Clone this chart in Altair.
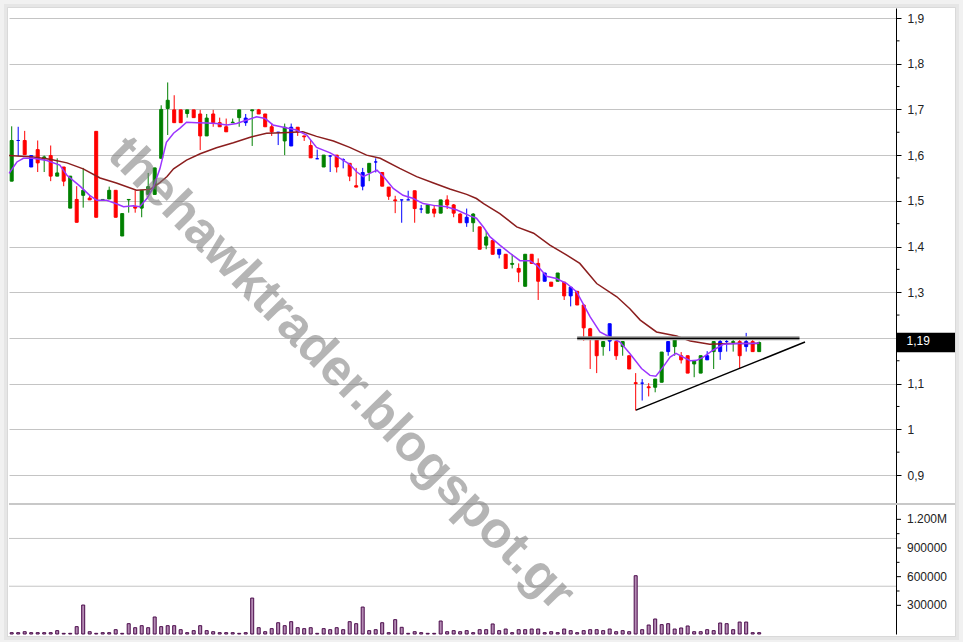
import altair as alt
import pandas as pd

# ---------------- data ----------------
opens = [1.543, 1.632, 1.632, 1.599, 1.612, 1.592, 1.599, 1.554, 1.574, 1.484,
         1.503, 1.512, 1.506, 1.652, 1.502, 1.504, 1.523, 1.423, 1.502, 1.487,
         1.484, 1.514, 1.514, 1.593, 1.702, 1.699, 1.699, 1.691, 1.699, 1.690,
         1.642, 1.690, 1.671, 1.662, 1.671, 1.682, 1.681, 1.697, 1.699, 1.690,
         1.662, 1.650, 1.631, 1.661, 1.661, 1.642, 1.621, 1.592, 1.574, 1.598,
         1.600, 1.590, 1.582, 1.533, 1.562, 1.562, 1.585, 1.562, 1.530, 1.502,
         1.502, 1.502, 1.522, 1.482, 1.473, 1.482, 1.473, 1.502, 1.491, 1.471,
         1.464, 1.452, 1.443, 1.403, 1.413, 1.394, 1.383, 1.361, 1.352, 1.313,
         1.383, 1.363, 1.342, 1.322, 1.324, 1.322, 1.311, 1.302, 1.272, 1.220,
         1.200, 1.181, 1.231, 1.192, 1.181, 1.161, 1.102, 1.101, 1.093, 1.092,
         1.103, 1.192, 1.181, 1.161, 1.161, 1.143, 1.123, 1.161, 1.170, 1.192,
         1.192, 1.190, 1.192, 1.192, 1.192, 1.170]
highs = [1.663, 1.662, 1.653, 1.599, 1.632, 1.599, 1.621, 1.593, 1.574, 1.554,
         1.532, 1.572, 1.512, 1.652, 1.503, 1.531, 1.523, 1.472, 1.503, 1.523,
         1.523, 1.561, 1.572, 1.709, 1.759, 1.731, 1.699, 1.699, 1.699, 1.699,
         1.690, 1.699, 1.682, 1.680, 1.680, 1.699, 1.690, 1.699, 1.701, 1.690,
         1.669, 1.650, 1.669, 1.669, 1.661, 1.642, 1.633, 1.612, 1.600, 1.600,
         1.600, 1.593, 1.582, 1.572, 1.572, 1.582, 1.593, 1.562, 1.530, 1.511,
         1.502, 1.522, 1.522, 1.491, 1.491, 1.491, 1.502, 1.512, 1.493, 1.473,
         1.483, 1.473, 1.443, 1.434, 1.413, 1.394, 1.383, 1.383, 1.363, 1.383,
         1.383, 1.374, 1.342, 1.322, 1.342, 1.322, 1.311, 1.302, 1.272, 1.222,
         1.200, 1.192, 1.231, 1.192, 1.192, 1.161, 1.123, 1.110, 1.101, 1.110,
         1.169, 1.192, 1.198, 1.169, 1.161, 1.150, 1.161, 1.171, 1.192, 1.198,
         1.198, 1.198, 1.200, 1.211, 1.198, 1.192]
lows = [1.543, 1.598, 1.601, 1.574, 1.563, 1.563, 1.543, 1.554, 1.532, 1.484,
        1.453, 1.485, 1.502, 1.464, 1.502, 1.504, 1.464, 1.423, 1.474, 1.474,
        1.464, 1.514, 1.514, 1.593, 1.644, 1.671, 1.671, 1.682, 1.682, 1.611,
        1.642, 1.662, 1.662, 1.651, 1.671, 1.662, 1.664, 1.620, 1.690, 1.662,
        1.642, 1.622, 1.600, 1.620, 1.642, 1.631, 1.594, 1.592, 1.574, 1.563,
        1.562, 1.571, 1.543, 1.530, 1.523, 1.543, 1.562, 1.532, 1.502, 1.473,
        1.452, 1.502, 1.452, 1.473, 1.473, 1.464, 1.473, 1.482, 1.464, 1.452,
        1.443, 1.432, 1.394, 1.394, 1.383, 1.374, 1.352, 1.352, 1.322, 1.313,
        1.363, 1.283, 1.324, 1.313, 1.324, 1.283, 1.269, 1.272, 1.194, 1.132,
        1.123, 1.161, 1.171, 1.152, 1.161, 1.132, 1.041, 1.063, 1.072, 1.081,
        1.103, 1.161, 1.161, 1.144, 1.123, 1.114, 1.123, 1.152, 1.132, 1.152,
        1.170, 1.170, 1.132, 1.170, 1.170, 1.170]
closes = [1.632, 1.632, 1.601, 1.574, 1.583, 1.596, 1.554, 1.561, 1.543, 1.554,
          1.453, 1.523, 1.502, 1.464, 1.503, 1.523, 1.464, 1.472, 1.503, 1.484,
          1.523, 1.531, 1.572, 1.700, 1.720, 1.671, 1.671, 1.699, 1.682, 1.642,
          1.681, 1.671, 1.662, 1.651, 1.672, 1.699, 1.671, 1.699, 1.690, 1.662,
          1.651, 1.650, 1.661, 1.620, 1.651, 1.640, 1.594, 1.592, 1.600, 1.598,
          1.574, 1.590, 1.554, 1.530, 1.532, 1.582, 1.585, 1.532, 1.510, 1.500,
          1.502, 1.502, 1.483, 1.482, 1.491, 1.473, 1.502, 1.491, 1.473, 1.452,
          1.452, 1.471, 1.394, 1.421, 1.383, 1.383, 1.352, 1.363, 1.344, 1.383,
          1.363, 1.324, 1.324, 1.313, 1.342, 1.292, 1.292, 1.272, 1.222, 1.201,
          1.161, 1.192, 1.193, 1.161, 1.192, 1.132, 1.100, 1.101, 1.091, 1.110,
          1.169, 1.170, 1.198, 1.152, 1.123, 1.150, 1.161, 1.152, 1.192, 1.170,
          1.192, 1.192, 1.161, 1.181, 1.170, 1.190]
dirs = list("gbrbrgrgrgrgrrggrggrgggggrrgrrgrrrggbgrrrbgbrrrbgbrbrrbgbrrrbbrbgrgrrrbgrgrbrgrgrrbrgrbrrrrgbrgrrbrggbgrrggbgbbgrbrg")
volumes = [14000, 14000, 24000, 14000, 14000, 14000, 14000, 35000, 7000, 7000,
           77000, 303000, 24000, 7000, 14000, 14000, 45000, 7000, 108000, 66000,
           87000, 66000, 178000, 77000, 87000, 87000, 45000, 14000, 35000, 87000,
           35000, 24000, 14000, 14000, 14000, 7000, 14000, 376000, 66000, 24000,
           56000, 118000, 87000, 129000, 66000, 56000, 66000, 7000, 56000, 45000,
           66000, 45000, 129000, 108000, 282000, 35000, 45000, 118000, 14000, 150000,
           70000, 7000, 24000, 14000, 7000, 7000, 136000, 24000, 35000, 24000,
           35000, 14000, 45000, 45000, 105000, 35000, 52000, 14000, 45000, 45000,
           52000, 52000, 14000, 24000, 14000, 52000, 35000, 14000, 35000, 45000,
           45000, 35000, 52000, 24000, 35000, 24000, 610000, 45000, 94000, 157000,
           98000, 108000, 52000, 63000, 84000, 24000, 24000, 45000, 35000, 115000,
           108000, 45000, 125000, 125000, 14000, 14000]

# short moving average (purple), positions in candle units
ma_short_pos = [-0.4, 0.8, 1.8, 3.3, 5.4, 7.4, 8.5, 10.5, 12.0, 13.1, 14.6, 16.2,
                17.2, 18.7, 19.7, 20.8, 21.8, 22.8, 23.8, 24.9, 25.9, 26.9, 28.5,
                30.0, 31.5, 33.1, 34.6, 36.2, 37.7, 39.0, 40.2, 41.8, 43.8, 45.4,
                46.9, 49.0, 51.0, 52.0, 53.1, 54.1, 55.1, 56.2, 57.2, 58.7, 60.2,
                61.8, 63.3, 64.9, 66.9, 68.5, 70.5, 71.5, 72.6, 73.6, 75.1, 76.7,
                78.2, 79.7, 80.8, 82.3, 83.8, 85.4, 86.9, 87.9, 89.0, 90.5, 92.0,
                93.6, 95.1, 96.9, 98.2, 99.1, 100.2, 101.3, 102.2, 103.3, 104.4,
                105.4, 106.4, 107.9, 109.5, 111.5, 113.6, 115.0]
ma_short_val = [1.560, 1.585, 1.593, 1.593, 1.588, 1.578, 1.556, 1.532, 1.512, 1.501,
                1.501, 1.493, 1.487, 1.489, 1.487, 1.505, 1.530, 1.570, 1.628, 1.648,
                1.659, 1.672, 1.671, 1.670, 1.669, 1.666, 1.669, 1.677, 1.684, 1.680,
                1.666, 1.661, 1.655, 1.644, 1.617, 1.605, 1.589, 1.580, 1.563, 1.553,
                1.560, 1.567, 1.553, 1.527, 1.512, 1.505, 1.494, 1.490, 1.487, 1.480,
                1.467, 1.462, 1.442, 1.421, 1.403, 1.385, 1.369, 1.369, 1.359, 1.335,
                1.330, 1.319, 1.301, 1.275, 1.246, 1.213, 1.202, 1.191, 1.166, 1.133,
                1.118, 1.116, 1.136, 1.158, 1.166, 1.158, 1.150, 1.151, 1.158, 1.173,
                1.186, 1.188, 1.188, 1.189]
# long moving average (dark red)
ma_long_pos = [-0.4, 3.3, 5.9, 8.5, 11.0, 13.6, 16.1, 19.2, 21.3, 22.8, 23.9, 24.9,
               26.9, 29.0, 31.5, 34.1, 36.7, 39.2, 41.7, 44.8, 46.9, 49.5, 52.0,
               54.6, 56.7, 59.7, 62.3, 64.9, 67.4, 70.0, 71.5, 72.6, 75.1, 77.7,
               80.3, 82.8, 85.4, 87.4, 90.0, 93.1, 95.1, 96.7, 99.2, 102.3, 104.4,
               107.4, 110.5, 113.6, 115.0]
ma_long_val = [1.599, 1.596, 1.591, 1.583, 1.570, 1.550, 1.539, 1.523, 1.525, 1.540,
               1.553, 1.570, 1.589, 1.603, 1.616, 1.627, 1.639, 1.648, 1.649, 1.651,
               1.641, 1.631, 1.617, 1.600, 1.593, 1.571, 1.553, 1.539, 1.526, 1.514,
               1.505, 1.494, 1.472, 1.443, 1.429, 1.403, 1.381, 1.363, 1.319, 1.290,
               1.264, 1.239, 1.213, 1.204, 1.193, 1.186, 1.188, 1.188, 1.188]

resist_pos = [87.0, 121.2]
resist_val = [1.199, 1.199]
support_pos = [96.05, 122.05]
support_val = [1.042, 1.191]

price_ticks = [0.9, 1.0, 1.1, 1.2, 1.3, 1.4, 1.5, 1.6, 1.7, 1.8, 1.9]
price_minor = [0.95, 1.05, 1.15, 1.25, 1.35, 1.45, 1.55, 1.65, 1.75, 1.85]
vol_ticks = [1200000, 900000, 600000, 300000]
vol_labels = ["1.200M", "900000", "600000", "300000"]
vol_minor = [1050000, 750000, 450000]
vol_grid = [1000000, 500000]
watermark = "thehawktrader.blogspot.gr"

# ---------------- frames ----------------
n = len(opens)
candles = pd.DataFrame({"pos": list(range(n)), "open": opens, "high": highs,
                        "low": lows, "close": closes, "dir": dirs, "volume": volumes})
ma_s = pd.DataFrame({"pos": ma_short_pos, "val": ma_short_val})
ma_l = pd.DataFrame({"pos": ma_long_pos, "val": ma_long_val})
res = pd.DataFrame({"pos": resist_pos, "val": resist_val})
sup = pd.DataFrame({"pos": support_pos, "val": support_val})
pmin = pd.DataFrame({"val": price_minor})
vt = pd.DataFrame({"v": vol_ticks, "lab": vol_labels})
vmin = pd.DataFrame({"v": vol_minor})
vg = pd.DataFrame({"v": vol_grid})
last = pd.DataFrame({"val": [closes[-1]], "lab": [f"{closes[-1]:.2f}".replace(".", ",")]})
one = pd.DataFrame({"k": [0]})

W, H = 887, 626
XDOM = [-0.415, 136.05]
PDOM = [0.5521, 1.9219]
VDOM = [0, 6.551e6]
FONT = "Liberation Sans"

xs = alt.Scale(domain=XDOM, nice=False, zero=False, padding=0)
ps = alt.Scale(domain=PDOM, nice=False, zero=False, padding=0)
vs = alt.Scale(domain=VDOM, nice=False, zero=False, padding=0)

# the label under the current-price box is hidden, as in the reference
paxis = alt.Axis(orient="right", values=price_ticks,
                 labelExpr="abs(datum.value - 1.2) < 0.001 ? '' : replace(format(datum.value, '.1~f'), '.', ',')",
                 grid=True, gridColor="#c4c4c4", gridWidth=1,
                 domainColor="#000000", domainWidth=1, tickColor="#000000",
                 tickSize=5, tickWidth=1, labelPadding=6, labelFont=FONT,
                 labelFontSize=12, labelColor="#222222", title=None)

dir_scale = alt.Scale(domain=["g", "r", "b"], range=["#008000", "#ff0000", "#0000ff"])

# shadow frame around the panel
def frame(x1, x2, y1, y2, color, w):
    return alt.Chart(one).mark_rect(fillOpacity=0, stroke=color, strokeWidth=w).encode(
        x=alt.value(x1), x2=alt.value(x2), y=alt.value(y1), y2=alt.value(y2))

shadow = [frame(-5, 950, -4, 632, "#f1f1f1", 8),
          frame(-3, 948, -2, 630, "#e6e6e6", 4),
          frame(-1.5, 946.5, -0.5, 628.5, "#d9d9d9", 1)]

# ---------------- price layers ----------------
wicks = alt.Chart(candles).mark_rule(strokeWidth=1).encode(
    x=alt.X("pos:Q", scale=xs, axis=None),
    y=alt.Y("low:Q", scale=ps, axis=paxis),
    y2="high:Q",
    color=alt.Color("dir:N", scale=dir_scale, legend=None))

bodies = alt.Chart(candles).mark_bar(size=3, strokeWidth=1).encode(
    x=alt.X("pos:Q", scale=xs, axis=None),
    y=alt.Y("open:Q", scale=ps, axis=paxis),
    y2="close:Q",
    fill=alt.Fill("dir:N", scale=dir_scale, legend=None),
    stroke=alt.Stroke("dir:N", scale=dir_scale, legend=None))

line_long = alt.Chart(ma_l).mark_line(color="#8b1e1e", strokeWidth=1.5).encode(
    x=alt.X("pos:Q", scale=xs, axis=None), y=alt.Y("val:Q", scale=ps, axis=paxis))
line_short = alt.Chart(ma_s).mark_line(color="#9b34ff", strokeWidth=1.5).encode(
    x=alt.X("pos:Q", scale=xs, axis=None), y=alt.Y("val:Q", scale=ps, axis=paxis))

res_band = alt.Chart(res).mark_line(color="#9a9a9a", strokeWidth=4, strokeCap="butt").encode(
    x=alt.X("pos:Q", scale=xs, axis=None), y=alt.Y("val:Q", scale=ps, axis=paxis))
res_line = alt.Chart(res).mark_line(color="#000000", strokeWidth=1.4, strokeCap="butt").encode(
    x=alt.X("pos:Q", scale=xs, axis=None), y=alt.Y("val:Q", scale=ps, axis=paxis))
sup_line = alt.Chart(sup).mark_line(color="#000000", strokeWidth=1.5).encode(
    x=alt.X("pos:Q", scale=xs, axis=None), y=alt.Y("val:Q", scale=ps, axis=paxis))

p_minor = alt.Chart(pmin).mark_rule(color="#000000", strokeWidth=1).encode(
    x=alt.value(W), x2=alt.value(W + 3.5), y=alt.Y("val:Q", scale=ps, axis=paxis))

last_box = alt.Chart(last).mark_rule(color="#000000", strokeWidth=19.5, strokeCap="butt").encode(
    x=alt.value(W + 0.7), x2=alt.value(W + 59), y=alt.Y("val:Q", scale=ps, axis=paxis))
last_txt = alt.Chart(last).mark_text(color="#ffffff", font=FONT, fontSize=12, align="left",
                                     baseline="middle", dy=-1).encode(
    x=alt.value(W + 10.5), y=alt.Y("val:Q", scale=ps, axis=paxis), text="lab:N")

price = alt.layer(wicks, bodies, line_long, line_short, res_band, res_line, sup_line,
                  p_minor, last_box, last_txt)

# ---------------- volume layers ----------------
v_grid = alt.Chart(vg).mark_rule(color="#c4c4c4", strokeWidth=1).encode(
    x=alt.value(0), x2=alt.value(W), y=alt.Y("v:Q", scale=vs, axis=None))
v_bars = alt.Chart(candles).mark_bar(size=3, fill="#b48cb4", stroke="#4b0b4b", strokeWidth=1).encode(
    x=alt.X("pos:Q", scale=xs, axis=None), y=alt.Y("volume:Q", scale=vs, axis=None))
v_ticks = alt.Chart(vt).mark_rule(color="#000000", strokeWidth=1).encode(
    x=alt.value(W), x2=alt.value(W + 5), y=alt.Y("v:Q", scale=vs, axis=None))
v_mticks = alt.Chart(vmin).mark_rule(color="#000000", strokeWidth=1).encode(
    x=alt.value(W), x2=alt.value(W + 3.5), y=alt.Y("v:Q", scale=vs, axis=None))
v_labels = alt.Chart(vt).mark_text(font=FONT, fontSize=12, color="#222222", align="left",
                                   baseline="middle").encode(
    x=alt.value(W + 11), y=alt.Y("v:Q", scale=vs, axis=None), text="lab:N")

volume = alt.layer(v_grid, v_bars, v_ticks, v_mticks, v_labels)

separator = alt.Chart(one).mark_rule(color="#c8c8c8", strokeWidth=2).encode(
    x=alt.value(0), x2=alt.value(946), y=alt.value(496))

wm = alt.Chart(one).mark_text(text=watermark, angle=45.5, font=FONT, fontWeight="bold",
                              fontSize=51, fill="#7a7a7a", opacity=0.55,
                              align="center", baseline="middle").encode(
    x=alt.value(332), y=alt.value(366))

chart = alt.layer(*shadow, separator, volume, price, wm).resolve_scale(
    y="independent"
).properties(
    width=W, height=H,
    padding={"left": 9, "top": 8, "right": 67, "bottom": 8},
    autosize=alt.AutoSizeParams(type="none"),
    background="#ffffff",
).configure_view(stroke=None)

chart.save("out.html", embed_options={"renderer": "svg", "actions": False})
